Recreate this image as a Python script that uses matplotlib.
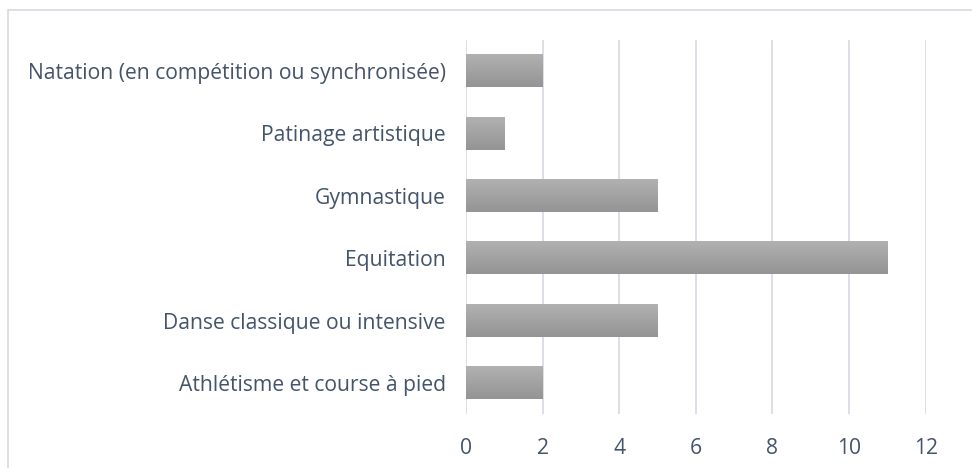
import matplotlib
matplotlib.use("Agg")
import matplotlib.pyplot as plt
import numpy as np
from matplotlib.patches import Rectangle
from matplotlib.colors import LinearSegmentedColormap

categories = ["Athlétisme et course à pied", "Danse classique ou intensive", "Equitation",
              "Gymnastique", "Patinage artistique", "Natation (en compétition ou synchronisée)"]
values = [2, 5, 11, 5, 1, 2]
xticks = [0, 2, 4, 6, 8, 10, 12]

plt.rcParams['font.family'] = ['Open Sans', 'DejaVu Sans']
fig = plt.figure(figsize=(9.72, 4.68), dpi=100)
ax = fig.add_axes([466/972, 1-414/468, (925.7-466)/972, (414-40)/468])

y = np.arange(len(categories))
bars = ax.barh(y, values, height=0.52, color="#a5a5a5", zorder=2)
grad = np.linspace(0, 1, 100).reshape(-1, 1)
cmap = LinearSegmentedColormap.from_list("g", ["#949494", "#b1b1b1"])
for b in bars:
    x0, y0 = b.get_x(), b.get_y()
    w, h = b.get_width(), b.get_height()
    ax.imshow(grad, extent=[x0, x0 + w, y0, y0 + h], origin="lower", cmap=cmap,
              aspect="auto", zorder=3)
ax.set_xlim(0, 12)
ax.set_ylim(-0.5, len(categories) - 0.5)
ax.set_xticks(xticks)
ax.set_yticks(y)
ax.set_yticklabels(categories)
ax.grid(axis="x", color="#d9dde4", linewidth=1.3, zorder=0)
for s in ax.spines.values():
    s.set_visible(False)
ax.tick_params(axis="both", length=0, labelsize=15.2, colors="#44546a")
ax.tick_params(axis="y", pad=14.5)
ax.tick_params(axis="x", pad=17)

fig.patches.append(Rectangle((8/972, -0.01), 1.0, 1 - 10/468 + 0.01, transform=fig.transFigure,
                             fill=False, edgecolor="#d9dde3", linewidth=1.3))
fig.savefig("out.png", dpi=100)
